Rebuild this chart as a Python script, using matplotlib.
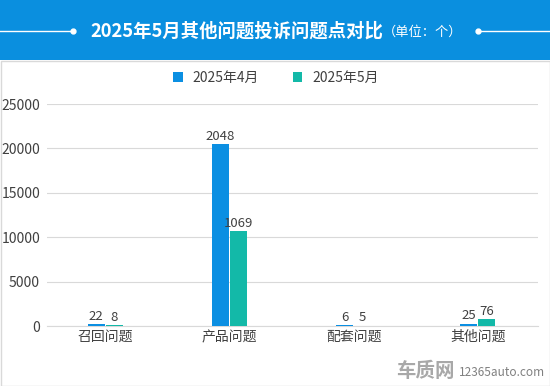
import matplotlib
matplotlib.use('Agg')
import numpy as np
import matplotlib.pyplot as plt
from matplotlib.patches import Rectangle
from matplotlib.lines import Line2D

plt.rcParams['font.family'] = ['Noto Sans CJK SC', 'DejaVu Sans']

# ====== 数据 ======
categories = ['召回问题', '产品问题', '配套问题', '其他问题']
series_names = ['2025年4月', '2025年5月']
apr_labels = [22, 2048, 6, 25]
may_labels = [8, 1069, 5, 76]
# 柱子高度（原图按标注值的 10 倍绘制）
apr_heights = [220, 20480, 60, 250]
may_heights = [80, 10690, 50, 760]
yticks = [0, 5000, 10000, 15000, 20000, 25000]

blue = '#0b8fe2'
teal = '#13b9a8'

fig = plt.figure(figsize=(5.5, 3.86), dpi=100)
fig.patch.set_facecolor('white')

# ====== 标题栏 ======
fig.patches.append(Rectangle((0, 1 - 60 / 386), 1, 60 / 386, transform=fig.transFigure,
                             facecolor='#0a8fdf', edgecolor='none', zorder=0))
fig.patches.append(Rectangle((0.5 / 550, 0.5 / 386), 549 / 550, (386 - 61) / 386,
                             transform=fig.transFigure, facecolor='none',
                             edgecolor='#d9d9d9', linewidth=1, zorder=0))
ty = 1 - 31 / 386
fig.lines.append(Line2D([0, 70 / 550], [ty, ty], transform=fig.transFigure, color='white', lw=1))
fig.lines.append(Line2D([73 / 550], [ty], transform=fig.transFigure, color='white',
                        marker='o', markersize=3.5, lw=0))
fig.lines.append(Line2D([481 / 550, 1], [ty, ty], transform=fig.transFigure, color='white', lw=1))
fig.lines.append(Line2D([478 / 550], [ty], transform=fig.transFigure, color='white',
                        marker='o', markersize=3.5, lw=0))
fig.text(90 / 550, ty, '2025年5月其他问题投诉问题点对比', color='white', fontsize=13.2,
         fontweight='bold', va='center', ha='left')
fig.text(383 / 550, ty - 0.002, '（单位：个）', color='white', fontsize=9.5, va='center', ha='left')

# ====== 绘图 ======
ax = fig.add_axes([47 / 550, 60 / 386, 491 / 550, 222 / 386])
x = np.arange(len(categories))
w = 0.137
b1 = ax.bar(x - w / 2 - 0.004, apr_heights, w, color=blue, label=series_names[0], zorder=3)
b2 = ax.bar(x + w / 2 + 0.004, may_heights, w, color=teal, label=series_names[1], zorder=3)
for rect, lab in zip(b1, apr_labels):
    ax.text(rect.get_x() + rect.get_width() / 2, rect.get_height() + 150, str(lab),
            ha='center', va='bottom', fontsize=9.5, color='#404040')
for rect, lab in zip(b2, may_labels):
    ax.text(rect.get_x() + rect.get_width() / 2, rect.get_height() + 150, str(lab),
            ha='center', va='bottom', fontsize=9.5, color='#404040')

ax.set_xlim(-0.467, 3.483)
ax.set_ylim(0, 25000)
ax.set_yticks(yticks)
ax.set_xticks(x)
ax.set_xticklabels(categories)
ax.tick_params(axis='both', length=0, labelsize=10, colors='#404040')
ax.tick_params(axis='y', pad=5)
ax.tick_params(axis='x', pad=3)
ax.grid(axis='y', color='#d9d9d9', linewidth=0.8, zorder=0)
for s in ['top', 'right', 'left']:
    ax.spines[s].set_visible(False)
ax.spines['bottom'].set_color('#d9d9d9')

leg = fig.legend(handles=[b1, b2], labels=series_names, loc='center',
                 bbox_to_anchor=(276 / 550, 1 - 78 / 386), ncol=2, frameon=False, fontsize=10,
                 handlelength=0.7, handleheight=0.7, columnspacing=2.4, handletextpad=0.7)
for t in leg.get_texts():
    t.set_color('#404040')

# 水印
fig.text(455 / 550, 0.012, '车质网', fontsize=14, fontweight='bold', color='#a8a8a8',
         ha='right', va='bottom')
fig.text(545 / 550, 0.017, '12365auto.com', fontsize=8.5, color='#808080', ha='right', va='bottom')

out = 'out.png'
plt.savefig(out, dpi=100)
plt.close()
